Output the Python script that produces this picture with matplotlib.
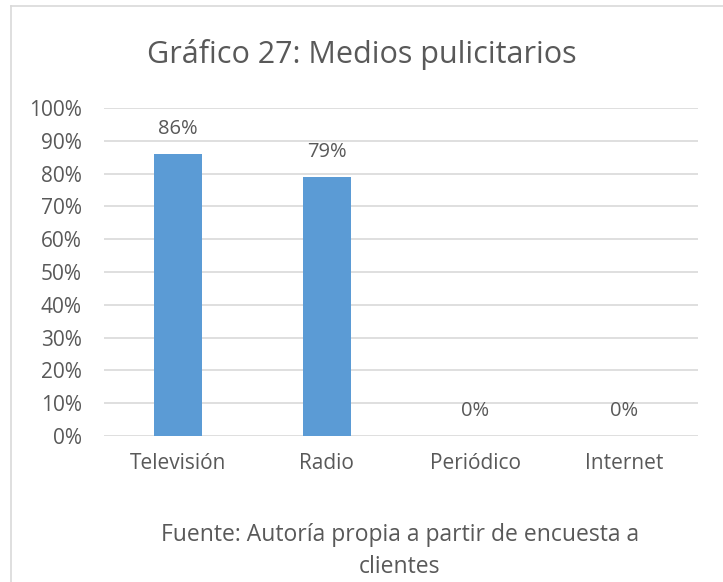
import matplotlib.pyplot as plt
from matplotlib.lines import Line2D
import numpy as np

categorias = ['Televisión', 'Radio', 'Periódico', 'Internet']
valores = [0.86, 0.79, 0.0, 0.0]
etiquetas_y = ['0%', '10%', '20%', '30%', '40%', '50%', '60%', '70%', '80%', '90%', '100%']

plt.rcParams['font.family'] = ['Open Sans', 'DejaVu Sans']
gris = '#595959'

fig = plt.figure(figsize=(7.23, 5.82), dpi=100)
ax = fig.add_axes([104/723, 1 - 436/582, 594/723, 328/582])

x = np.arange(len(categorias))
barras = ax.bar(x, valores, width=0.32, color='#5B9BD5', zorder=3)
for xi, v in zip(x, valores):
    ax.annotate('{:.0%}'.format(v), (xi, v), xytext=(0, 18), textcoords='offset points',
                ha='center', va='center', fontsize=14.5, color=gris)

ax.set_xlim(-0.5, len(categorias) - 0.5)
ax.set_ylim(0, 1)
ax.set_yticks(np.linspace(0, 1, 11))
ax.set_yticklabels(etiquetas_y, fontsize=15, color=gris)
ax.set_xticks(x)
ax.set_xticklabels(categorias, fontsize=15, color=gris)
ax.tick_params(axis='y', length=0, pad=16)
ax.tick_params(axis='x', length=0, pad=12)
ax.yaxis.grid(True, color='#D9D9D9', linewidth=1.2, zorder=0)
for s in ax.spines.values():
    s.set_visible(False)

fig.text(362/723, 1 - 55/582, 'Gráfico 27: Medios pulicitarios', ha='center', va='center',
         fontsize=22, color=gris)
fig.text(400/723, 1 - 535/582, 'Fuente: Autoría propia a partir de encuesta a', ha='center',
         va='center', fontsize=16.5, color=gris)
fig.text(400/723, 1 - 567/582, 'clientes', ha='center', va='center', fontsize=16.5, color=gris)

# borde del grafico
fig.add_artist(Line2D([11/723, 11/723], [0, 1 - 6/582], color='#D9D9D9', linewidth=1.2))
fig.add_artist(Line2D([11/723, 1], [1 - 6/582, 1 - 6/582], color='#D9D9D9', linewidth=1.2))

fig.savefig('out.png', dpi=100)
